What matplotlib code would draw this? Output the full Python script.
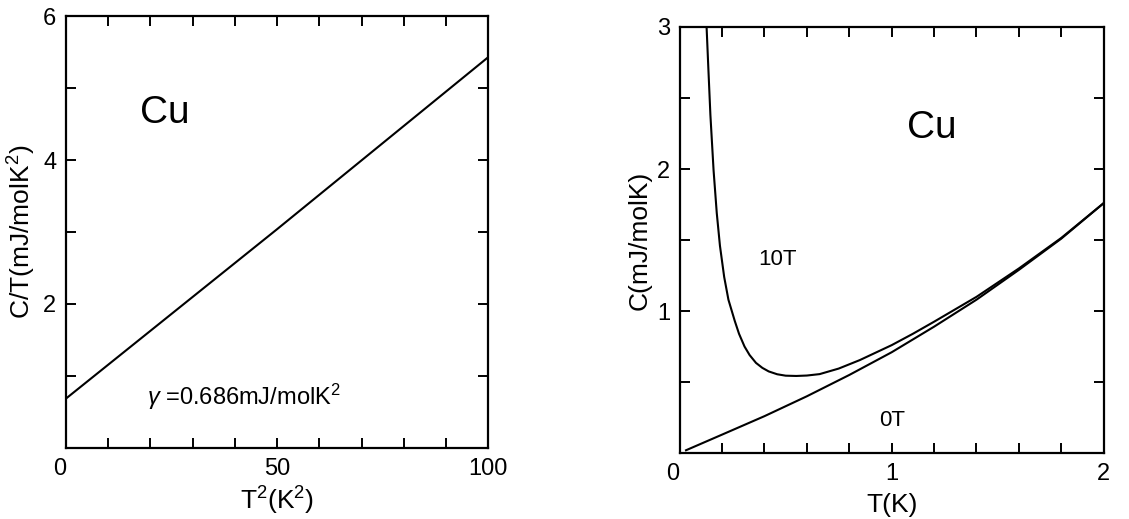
import matplotlib
matplotlib.use("Agg")
import matplotlib.pyplot as plt
from matplotlib.ticker import MultipleLocator, FixedLocator

plt.rcParams['font.family'] = ['Liberation Sans', 'DejaVu Sans']
plt.rcParams['mathtext.fontset'] = 'custom'
plt.rcParams['mathtext.rm'] = 'Liberation Sans'
plt.rcParams['mathtext.it'] = 'Liberation Sans:italic'

# left panel: C/T vs T^2
t2_cu = [0, 50, 100]
ct_cu = [0.686, 3.04, 5.43]

# right panel: C vs T at 0T and 10T
t_0T = [0.03, 0.2, 0.4, 0.6, 0.8, 1.0, 1.2, 1.4, 1.6, 1.8, 2.0]
c_0T = [0.02, 0.13, 0.26, 0.40, 0.55, 0.71, 0.89, 1.08, 1.29, 1.51, 1.76]

t_10T = [0.127, 0.135, 0.145, 0.16, 0.175, 0.19, 0.21, 0.23, 0.26, 0.28, 0.306,
         0.33, 0.36, 0.39, 0.42, 0.46, 0.50, 0.55, 0.60, 0.66, 0.75, 0.80, 0.85,
         0.90, 1.0, 1.1, 1.2, 1.4, 1.6, 1.8, 2.0]
c_10T = [3.0, 2.72, 2.38, 1.99, 1.69, 1.46, 1.24, 1.08, 0.93, 0.84, 0.75,
         0.69, 0.635, 0.60, 0.575, 0.555, 0.545, 0.543, 0.546, 0.556, 0.595, 0.625, 0.655,
         0.69, 0.76, 0.84, 0.925, 1.10, 1.30, 1.515, 1.76]

fig = plt.figure(figsize=(11.29, 5.19), dpi=100)
ax1 = fig.add_axes([0.0585, 0.137, 0.374, 0.832])
ax2 = fig.add_axes([0.602, 0.127, 0.3756, 0.821])

for ax in (ax1, ax2):
    for s in ax.spines.values():
        s.set_linewidth(1.6)
    ax.tick_params(which='both', direction='in', top=True, right=True,
                   width=1.4, labelsize=17, pad=7)
    ax.tick_params(which='major', length=7)
    ax.tick_params(which='minor', length=7)

# left
ax1.plot(t2_cu, ct_cu, color='black', lw=1.5)
ax1.set_xlim(0, 100)
ax1.set_ylim(0, 6)
ax1.xaxis.set_major_locator(FixedLocator([0, 50, 100]))
ax1.xaxis.set_minor_locator(MultipleLocator(10))
ax1.yaxis.set_major_locator(FixedLocator([2, 4, 6]))
ax1.yaxis.set_minor_locator(MultipleLocator(1))
ax1.set_xlabel('T$^2$(K$^2$)', fontsize=19, labelpad=4)
ax1.set_ylabel('C/T(mJ/molK$^2$)', fontsize=19, labelpad=4)
ax1.text(17.6, 4.65, 'Cu', fontsize=28, va='center', ha='left')
ax1.text(19.2, 0.71, r'$\gamma$ =0.686mJ/molK$^2$', fontsize=17, va='center', ha='left')

# right
ax2.plot(t_0T, c_0T, color='black', lw=1.5)
ax2.plot(t_10T, c_10T, color='black', lw=1.5)
ax2.set_xlim(0, 2)
ax2.set_ylim(0, 3)
ax2.xaxis.set_major_locator(FixedLocator([0, 1, 2]))
ax2.xaxis.set_minor_locator(MultipleLocator(0.2))
ax2.yaxis.set_major_locator(FixedLocator([1, 2, 3]))
ax2.yaxis.set_minor_locator(MultipleLocator(0.5))
ax2.set_xticklabels(['0', '1', '2'])
ax2.set_yticklabels(['1', '2', '3'])
ax2.set_xlabel('T(K)', fontsize=19, labelpad=6)
ax2.set_ylabel('C(mJ/molK)', fontsize=19, labelpad=4)
ax2.text(1.07, 2.29, 'Cu', fontsize=28, va='center', ha='left')
ax2.text(0.37, 1.36, '10T', fontsize=16, va='center', ha='left')
ax2.text(0.94, 0.23, '0T', fontsize=16, va='center', ha='left')

# the "0" at each corner sits just left of the axis
fig.canvas.draw()
for ax in (ax1, ax2):
    ax.get_xticklabels()[0].set_horizontalalignment('right')

fig.savefig('out.png', dpi=100)
